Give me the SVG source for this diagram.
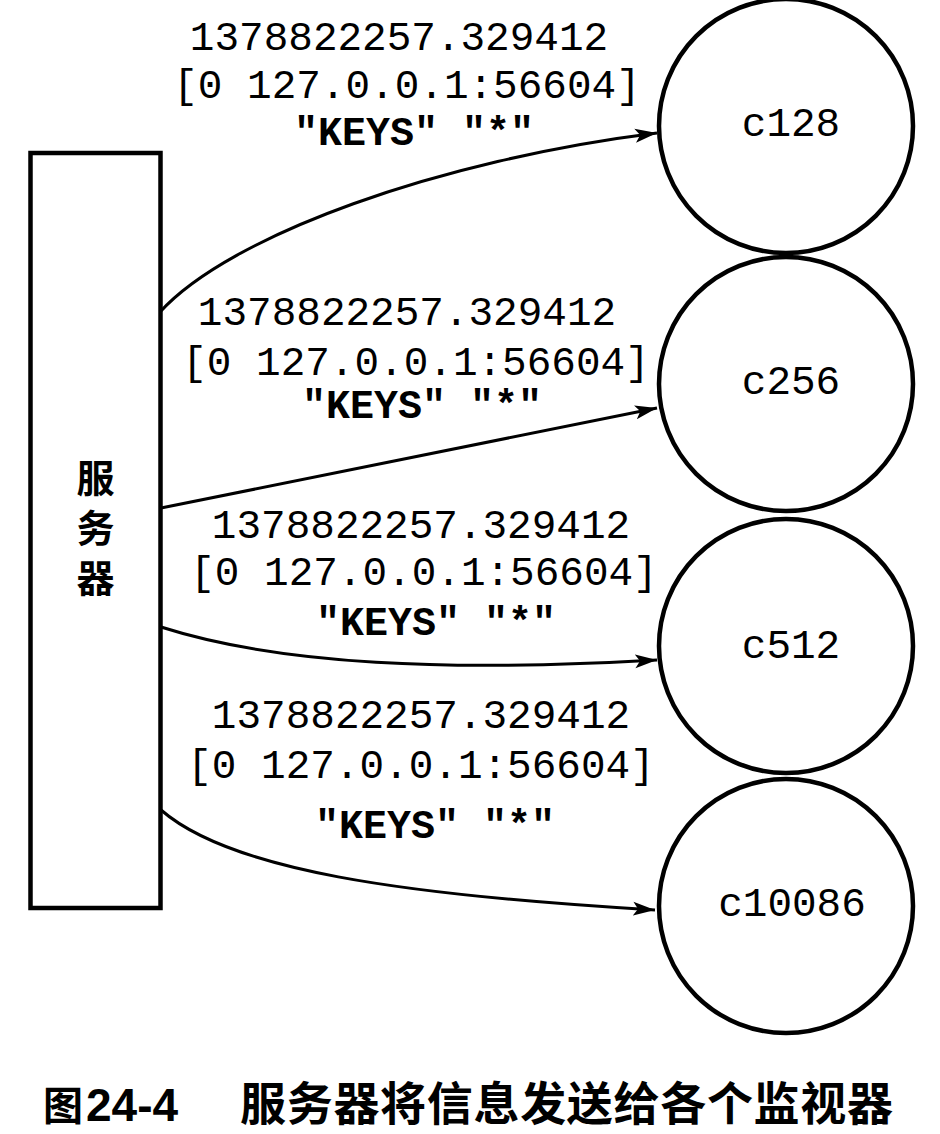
<svg xmlns="http://www.w3.org/2000/svg" width="940" height="1134" viewBox="0 0 940 1134">
  <style>
    .node { fill: #fff; stroke: #000; stroke-width: 4.5; }
    .edge { fill: none; stroke: #000; stroke-width: 3; }
    .lbl { font-family: "Liberation Mono", "Courier New", monospace; font-size: 41px; fill: #000; text-anchor: middle; }
    .key { font-family: "Liberation Mono", "Courier New", monospace; font-size: 40px; font-weight: bold; fill: #000; text-anchor: middle; }
    .cname { font-family: "Liberation Mono", "Courier New", monospace; font-size: 41px; fill: #000; text-anchor: middle; }
    .cjk { font-family: "Noto Sans CJK SC", sans-serif; font-weight: bold; fill: #000; }
  </style>
  <defs>
    <marker id="arrow" markerUnits="userSpaceOnUse" markerWidth="24" markerHeight="16" refX="22" refY="8" orient="auto">
      <path d="M0,1 L22,8 L0,15 L5,8 z" fill="#000"/>
    </marker>
  </defs>
  <rect width="940" height="1134" fill="#fff"/>

  <g id="server">
    <rect class="node" x="30.5" y="153" width="130" height="755"/>
    <text class="cjk" x="95.5" y="475" font-size="38" text-anchor="middle" dominant-baseline="central">服</text>
    <text class="cjk" x="95.5" y="525" font-size="38" text-anchor="middle" dominant-baseline="central">务</text>
    <text class="cjk" x="95.5" y="575" font-size="38" text-anchor="middle" dominant-baseline="central">器</text>
  </g>

  <g id="c128">
    <circle class="node" cx="786" cy="126" r="127"/>
    <text class="cname" x="791" y="136">c128</text>
  </g>
  <g id="c256">
    <circle class="node" cx="786" cy="384" r="127"/>
    <text class="cname" x="791" y="394">c256</text>
  </g>
  <g id="c512">
    <circle class="node" cx="786" cy="646" r="127"/>
    <text class="cname" x="791" y="658">c512</text>
  </g>
  <g id="c10086">
    <circle class="node" cx="786" cy="906" r="127"/>
    <text class="cname" x="792" y="916">c10086</text>
  </g>

  <g id="connectors">
    <path class="edge" d="M160,312 C230,235 440,160 657,133" marker-end="url(#arrow)"/>
    <path class="edge" d="M161,508 L657,408" marker-end="url(#arrow)"/>
    <path class="edge" d="M161,627 C280,665 450,672 657,660" marker-end="url(#arrow)"/>
    <path class="edge" d="M161,810 C230,870 400,895 655,910" marker-end="url(#arrow)"/>
  </g>

  <g id="labels">
    <g id="label-c128">
      <text class="lbl" x="399" y="50">1378822257.329412</text>
      <text class="lbl" x="407" y="98">[0 127.0.0.1:56604]</text>
      <text class="key" x="414" y="145">"KEYS" "*"</text>
    </g>
    <g id="label-c256">
      <text class="lbl" x="407" y="325">1378822257.329412</text>
      <text class="lbl" x="416" y="375">[0 127.0.0.1:56604]</text>
      <text class="key" x="422" y="418">"KEYS" "*"</text>
    </g>
    <g id="label-c512">
      <text class="lbl" x="421" y="538">1378822257.329412</text>
      <text class="lbl" x="424" y="585">[0 127.0.0.1:56604]</text>
      <text class="key" x="436" y="635">"KEYS" "*"</text>
    </g>
    <g id="label-c10086">
      <text class="lbl" x="421" y="728">1378822257.329412</text>
      <text class="lbl" x="421" y="778">[0 127.0.0.1:56604]</text>
      <text class="key" x="435" y="838">"KEYS" "*"</text>
    </g>
  </g>

  <g id="caption">
    <text class="cjk" x="43" y="1120" font-size="40">图</text>
    <text x="86" y="1121" font-family="Liberation Sans, Arial, sans-serif" font-weight="bold" font-size="46" fill="#000">24-4</text>
    <text class="cjk" x="240" y="1120" font-size="46" textLength="653" lengthAdjust="spacing">服务器将信息发送给各个监视器</text>
  </g>
</svg>
